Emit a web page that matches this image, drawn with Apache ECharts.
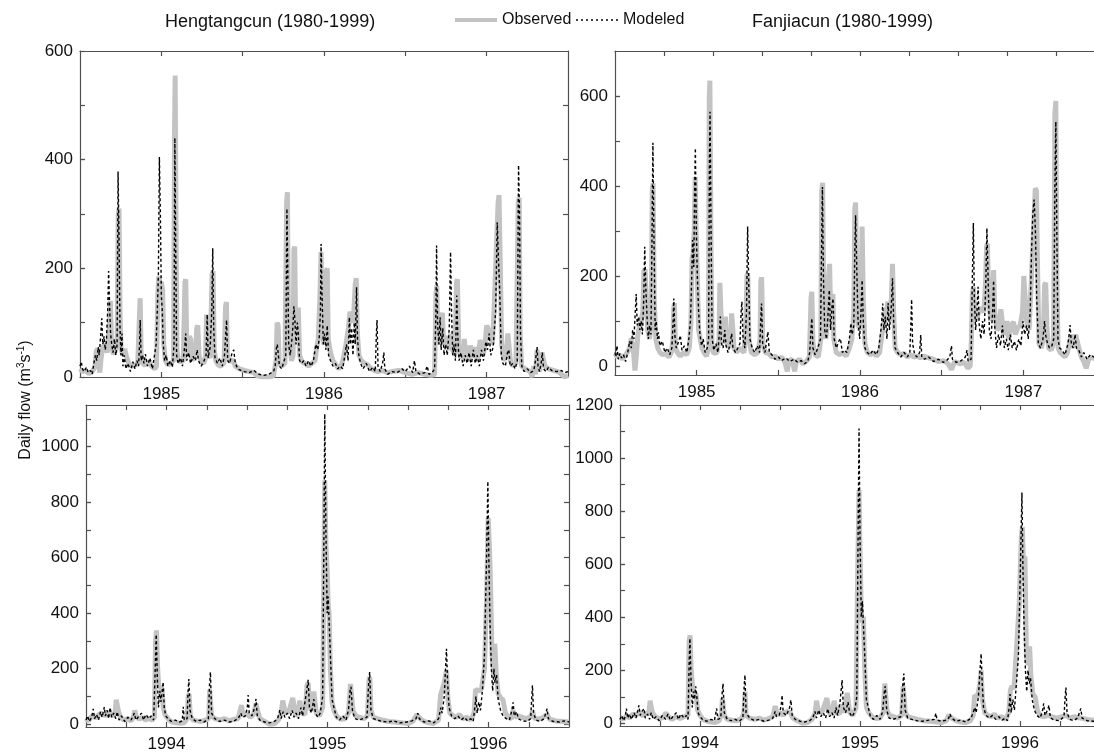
<!DOCTYPE html>
<html>
<head>
<meta charset="utf-8">
<title>Daily flow – Hengtangcun and Fanjiacun</title>
<script src="https://cdn.jsdelivr.net/npm/echarts@6/dist/echarts.min.js"></script>
<style>
  html, body { margin: 0; padding: 0; background: #ffffff; overflow: hidden; }
  #chart { width: 1094px; height: 753px; }
</style>
</head>
<body>
<div id="chart"></div>
<script>
// ---- Daily flow series, [decimal year, m3/s] ----

// Hengtangcun, mid-1984 to mid-1987
const hengtangObs85 = [
  [1984.500, 15], [1984.515, 10], [1984.535, 12], [1984.555, 6], [1984.575, 10], [1984.592, 18],
  [1984.600, 48], [1984.608, 52], [1984.615, 30], [1984.622, 8], [1984.630, 35], [1984.640, 55], [1984.655, 60], [1984.668, 45],
  [1984.680, 90], [1984.687, 140], [1984.694, 60], [1984.705, 42], [1984.718, 48], [1984.728, 60],
  [1984.735, 300], [1984.740, 310], [1984.746, 120], [1984.752, 55], [1984.762, 40], [1984.775, 52], [1984.785, 38], [1984.800, 25], [1984.820, 20], [1984.840, 22], [1984.855, 25],
  [1984.865, 110], [1984.870, 145], [1984.876, 40], [1984.885, 25], [1984.900, 22], [1984.920, 28], [1984.940, 20], [1984.960, 15], [1984.970, 20],
  [1984.978, 150], [1984.984, 185], [1984.992, 170], [1985.000, 175], [1985.008, 160], [1985.015, 60], [1985.025, 30], [1985.040, 22], [1985.060, 25], [1985.075, 30],
  [1985.081, 450], [1985.085, 555], [1985.090, 300], [1985.096, 50], [1985.105, 30], [1985.120, 28], [1985.135, 30],
  [1985.145, 175], [1985.150, 180], [1985.156, 60], [1985.165, 40], [1985.172, 75], [1985.180, 70], [1985.188, 30], [1985.200, 28], [1985.210, 45],
  [1985.218, 90], [1985.224, 95], [1985.232, 40], [1985.245, 28], [1985.260, 25], [1985.272, 35],
  [1985.278, 115], [1985.284, 118], [1985.290, 40], [1985.300, 35], [1985.312, 190], [1985.318, 195], [1985.325, 50], [1985.335, 30], [1985.350, 22], [1985.365, 20], [1985.385, 25],
  [1985.395, 130], [1985.400, 138], [1985.406, 40], [1985.420, 28], [1985.440, 32], [1985.455, 20], [1985.480, 15], [1985.510, 12], [1985.540, 10], [1985.570, 8], [1985.590, 2], [1985.620, 0], [1985.660, 0], [1985.690, 2], [1985.705, 30],
  [1985.712, 100], [1985.718, 95], [1985.725, 25], [1985.740, 20], [1985.760, 25],
  [1985.770, 320], [1985.775, 340], [1985.781, 120], [1985.790, 60], [1985.800, 30], [1985.810, 40],
  [1985.815, 235], [1985.820, 240], [1985.826, 80], [1985.835, 120], [1985.842, 128], [1985.850, 40], [1985.865, 28], [1985.885, 25], [1985.905, 20], [1985.925, 25], [1985.945, 30], [1985.955, 55],
  [1985.965, 70], [1985.975, 150], [1985.982, 230], [1985.990, 90], [1986.000, 60], [1986.008, 80],
  [1986.014, 195], [1986.020, 200], [1986.026, 70], [1986.040, 45], [1986.055, 30], [1986.075, 22], [1986.090, 15], [1986.105, 20], [1986.120, 35], [1986.135, 60], [1986.150, 90],
  [1986.160, 120], [1986.170, 122], [1986.180, 100], [1986.192, 170], [1986.198, 182], [1986.205, 80], [1986.215, 40], [1986.230, 30], [1986.250, 25], [1986.270, 22], [1986.290, 15], [1986.310, 12], [1986.330, 10], [1986.360, 12], [1986.390, 8], [1986.420, 10], [1986.460, 12], [1986.500, 8], [1986.540, 5], [1986.580, 8], [1986.620, 5], [1986.660, 3], [1986.680, 5],
  [1986.688, 150], [1986.693, 168], [1986.700, 80], [1986.710, 60], [1986.722, 110], [1986.728, 118], [1986.735, 60], [1986.750, 70], [1986.758, 75], [1986.768, 50], [1986.778, 80], [1986.790, 50], [1986.805, 40],
  [1986.815, 175], [1986.820, 180], [1986.828, 60], [1986.840, 40], [1986.855, 35], [1986.862, 70], [1986.868, 72], [1986.875, 40], [1986.890, 30], [1986.900, 58], [1986.908, 60], [1986.918, 35], [1986.928, 55], [1986.936, 58], [1986.945, 30], [1986.960, 68], [1986.968, 70], [1986.978, 40], [1986.990, 60],
  [1987.000, 95], [1987.010, 92], [1987.022, 80], [1987.035, 60], [1987.045, 120],
  [1987.070, 320], [1987.076, 335], [1987.083, 220], [1987.092, 60], [1987.105, 30], [1987.120, 40], [1987.130, 80], [1987.138, 78], [1987.146, 30], [1987.160, 20], [1987.180, 25],
  [1987.194, 320], [1987.200, 330], [1987.206, 80], [1987.215, 20], [1987.235, 15], [1987.255, 12], [1987.270, 8], [1987.280, 0], [1987.290, 20], [1987.300, 5], [1987.310, 50], [1987.318, 48], [1987.325, 10], [1987.340, 45], [1987.348, 42], [1987.358, 20], [1987.380, 15], [1987.410, 12], [1987.440, 10], [1987.460, 5], [1987.480, 0], [1987.500, 3]
];

const hengtangMod85 = [
  [1984.500, 20], [1984.508, 28], [1984.515, 15], [1984.525, 10], [1984.540, 18], [1984.550, 8], [1984.565, 12], [1984.575, 5], [1984.585, 25], [1984.595, 40], [1984.603, 30], [1984.612, 55], [1984.618, 40],
  [1984.628, 80], [1984.634, 108], [1984.640, 60], [1984.648, 75], [1984.655, 50], [1984.662, 65],
  [1984.670, 120], [1984.676, 195], [1984.682, 130], [1984.688, 80], [1984.695, 60], [1984.703, 45], [1984.712, 70], [1984.720, 40], [1984.728, 60],
  [1984.734, 378], [1984.740, 250], [1984.746, 90], [1984.752, 40], [1984.758, 80], [1984.764, 20], [1984.772, 40], [1984.782, 15], [1984.795, 25], [1984.810, 10], [1984.825, 28], [1984.838, 15], [1984.850, 30], [1984.860, 20],
  [1984.866, 60], [1984.870, 105], [1984.876, 30], [1984.885, 40], [1984.893, 25], [1984.902, 42], [1984.915, 20], [1984.930, 35], [1984.945, 15], [1984.958, 40], [1984.968, 60],
  [1984.976, 130], [1984.982, 190], [1984.988, 405], [1984.994, 300], [1985.000, 150], [1985.006, 120], [1985.012, 60], [1985.020, 30], [1985.030, 40], [1985.040, 20], [1985.055, 30], [1985.068, 18], [1985.078, 60],
  [1985.083, 440], [1985.088, 250], [1985.094, 40], [1985.104, 25], [1985.118, 35], [1985.130, 20],
  [1985.145, 60], [1985.150, 80], [1985.156, 30], [1985.168, 45], [1985.180, 25], [1985.195, 38], [1985.210, 30], [1985.220, 50], [1985.228, 30], [1985.245, 20], [1985.260, 28], [1985.275, 40],
  [1985.282, 115], [1985.288, 35], [1985.300, 55], [1985.310, 120], [1985.316, 237], [1985.322, 90], [1985.330, 35], [1985.345, 25], [1985.360, 35], [1985.375, 20], [1985.388, 40],
  [1985.396, 80], [1985.401, 105], [1985.408, 30], [1985.420, 25], [1985.435, 45], [1985.445, 50], [1985.455, 25], [1985.470, 15], [1985.490, 12], [1985.510, 10], [1985.540, 8], [1985.570, 12], [1985.585, 8], [1985.600, 5], [1985.630, 3], [1985.660, 5], [1985.690, 10], [1985.700, 20],
  [1985.708, 55], [1985.713, 60], [1985.718, 45], [1985.726, 20], [1985.740, 15], [1985.755, 30], [1985.765, 40],
  [1985.772, 310], [1985.777, 200], [1985.783, 60], [1985.792, 40], [1985.800, 60], [1985.808, 90],
  [1985.815, 130], [1985.820, 110], [1985.828, 60], [1985.836, 100], [1985.842, 80], [1985.850, 30], [1985.862, 25], [1985.875, 30], [1985.890, 20], [1985.905, 30], [1985.920, 20], [1985.935, 30], [1985.950, 60], [1985.962, 50], [1985.970, 70],
  [1985.978, 120], [1985.982, 245], [1985.988, 150], [1985.996, 60], [1986.004, 80], [1986.012, 50], [1986.020, 95], [1986.028, 40], [1986.040, 30], [1986.055, 20], [1986.070, 25], [1986.085, 15], [1986.100, 20], [1986.115, 15], [1986.128, 40], [1986.138, 60], [1986.148, 30],
  [1986.156, 110], [1986.162, 60], [1986.170, 90], [1986.178, 40], [1986.186, 100], [1986.192, 60], [1986.200, 165], [1986.206, 70], [1986.214, 40], [1986.225, 25], [1986.240, 15], [1986.260, 25], [1986.280, 10], [1986.300, 18], [1986.315, 10],
  [1986.322, 80], [1986.326, 105], [1986.332, 20], [1986.345, 10], [1986.360, 25], [1986.368, 45], [1986.374, 15], [1986.390, 5], [1986.420, 10], [1986.450, 8], [1986.480, 15], [1986.500, 10], [1986.525, 20], [1986.545, 8], [1986.556, 30], [1986.565, 10], [1986.590, 5], [1986.620, 8], [1986.635, 20], [1986.645, 5], [1986.665, 8], [1986.680, 15],
  [1986.688, 120], [1986.692, 242], [1986.698, 100], [1986.706, 60], [1986.714, 110], [1986.720, 50], [1986.730, 90], [1986.738, 40], [1986.748, 60], [1986.758, 40], [1986.770, 90],
  [1986.778, 230], [1986.784, 120], [1986.792, 40], [1986.800, 60], [1986.808, 30], [1986.816, 150], [1986.822, 80], [1986.830, 30], [1986.842, 45], [1986.855, 20], [1986.868, 40], [1986.880, 25], [1986.892, 45], [1986.905, 20], [1986.918, 50], [1986.930, 25], [1986.942, 40], [1986.955, 20], [1986.968, 50], [1986.980, 30], [1986.995, 65], [1987.005, 50], [1987.015, 80], [1987.025, 40], [1987.040, 55], [1987.055, 120],
  [1987.065, 285], [1987.072, 220], [1987.080, 160], [1987.090, 40], [1987.100, 25], [1987.115, 20], [1987.128, 45], [1987.136, 50], [1987.145, 20], [1987.160, 25], [1987.175, 15], [1987.188, 30],
  [1987.196, 390], [1987.202, 300], [1987.208, 80], [1987.216, 20], [1987.230, 10], [1987.250, 15], [1987.270, 8], [1987.290, 12], [1987.300, 30], [1987.310, 55], [1987.316, 20], [1987.325, 10], [1987.335, 25], [1987.342, 45], [1987.350, 15], [1987.365, 10], [1987.380, 18], [1987.400, 12], [1987.430, 10], [1987.460, 12], [1987.480, 8], [1987.500, 10]
];

// Fanjiacun, mid-1984 to mid-1987
const fanjiacunObs85 = [
  [1984.500, 28], [1984.515, 20], [1984.530, 25], [1984.545, 15], [1984.560, 22], [1984.575, 30], [1984.590, 40],
  [1984.600, 62], [1984.606, 65], [1984.614, 30], [1984.622, -10], [1984.630, 20], [1984.640, 70], [1984.650, 90], [1984.660, 100], [1984.670, 120],
  [1984.677, 210], [1984.684, 215], [1984.692, 150], [1984.700, 80], [1984.712, 60], [1984.722, 100],
  [1984.728, 390], [1984.733, 406], [1984.740, 150], [1984.750, 60], [1984.762, 40], [1984.775, 30], [1984.790, 25], [1984.810, 28], [1984.830, 20], [1984.845, 30], [1984.855, 60],
  [1984.860, 130], [1984.864, 140], [1984.870, 40], [1984.885, 28], [1984.900, 22], [1984.920, 30], [1984.940, 25], [1984.955, 40], [1984.965, 100],
  [1984.972, 240], [1984.978, 250], [1984.985, 300], [1984.991, 420], [1984.997, 300], [1985.004, 200], [1985.012, 80], [1985.022, 60], [1985.032, 40], [1985.045, 30], [1985.060, 22], [1985.072, 40],
  [1985.077, 600], [1985.081, 634], [1985.087, 300], [1985.094, 40], [1985.105, 28], [1985.125, 30], [1985.137, 60],
  [1985.142, 185], [1985.147, 188], [1985.153, 80], [1985.162, 50], [1985.170, 95], [1985.176, 110], [1985.182, 60], [1985.195, 40], [1985.208, 60], [1985.214, 117], [1985.220, 90], [1985.228, 40], [1985.245, 30], [1985.262, 40], [1985.275, 35], [1985.290, 30], [1985.300, 80],
  [1985.308, 200], [1985.313, 206], [1985.320, 60], [1985.335, 30], [1985.355, 25], [1985.375, 30], [1985.388, 60],
  [1985.393, 190], [1985.398, 197], [1985.405, 50], [1985.420, 30], [1985.440, 28], [1985.460, 20], [1985.480, 22], [1985.500, 15], [1985.520, 20], [1985.540, 8], [1985.555, -12], [1985.565, 12], [1985.585, 15], [1985.600, -12], [1985.610, 10], [1985.630, 15], [1985.650, 5], [1985.670, 10], [1985.690, 20],
  [1985.700, 150], [1985.705, 165], [1985.712, 50], [1985.725, 25], [1985.745, 20], [1985.760, 60],
  [1985.766, 390], [1985.771, 407], [1985.778, 150], [1985.790, 60], [1985.800, 90], [1985.808, 200], [1985.814, 227], [1985.820, 120], [1985.828, 150], [1985.834, 160], [1985.840, 60], [1985.855, 30], [1985.875, 25], [1985.895, 30], [1985.915, 22], [1985.935, 40], [1985.950, 60], [1985.962, 120],
  [1985.968, 350], [1985.973, 363], [1985.980, 200], [1985.990, 90], [1986.000, 80], [1986.008, 200], [1986.013, 310], [1986.020, 150], [1986.030, 50], [1986.045, 30], [1986.065, 25], [1986.085, 30], [1986.100, 22], [1986.120, 30], [1986.135, 70], [1986.150, 110], [1986.165, 130],
  [1986.171, 143], [1986.180, 100], [1986.192, 150], [1986.199, 227], [1986.206, 120], [1986.215, 40], [1986.230, 30], [1986.250, 25], [1986.270, 28], [1986.290, 20], [1986.310, 25], [1986.330, 20], [1986.350, 22], [1986.370, 18], [1986.390, 22], [1986.420, 18], [1986.450, 15], [1986.480, 10], [1986.510, 12], [1986.540, 5], [1986.560, -8], [1986.580, 10], [1986.610, 5], [1986.640, 8], [1986.660, -5], [1986.675, 0], [1986.682, 60],
  [1986.688, 160], [1986.694, 175], [1986.702, 120], [1986.712, 100], [1986.723, 117], [1986.735, 130], [1986.745, 132], [1986.758, 120], [1986.768, 180], [1986.775, 265], [1986.780, 272], [1986.788, 150], [1986.800, 100], [1986.812, 150], [1986.818, 213], [1986.825, 120], [1986.838, 80], [1986.852, 85], [1986.862, 126], [1986.868, 110], [1986.878, 70], [1986.890, 80], [1986.900, 100], [1986.910, 60], [1986.925, 90], [1986.940, 98], [1986.952, 70], [1986.965, 85], [1986.980, 90], [1986.995, 120],
  [1987.003, 200], [1987.011, 200], [1987.020, 100], [1987.035, 80], [1987.050, 200], [1987.062, 300], [1987.073, 395], [1987.080, 390], [1987.088, 200], [1987.096, 50], [1987.110, 40], [1987.122, 60], [1987.130, 180], [1987.137, 185], [1987.145, 80], [1987.155, 40], [1987.170, 35], [1987.185, 50],
  [1987.193, 560], [1987.199, 589], [1987.205, 200], [1987.213, 40], [1987.225, 30], [1987.240, 25], [1987.255, 20], [1987.270, 30], [1987.280, 45], [1987.292, 70], [1987.300, 40], [1987.312, 55], [1987.320, 70], [1987.330, 72], [1987.340, 40], [1987.355, 20], [1987.370, 10], [1987.385, -5], [1987.400, 15], [1987.420, 20], [1987.440, 15], [1987.460, 25], [1987.480, 20], [1987.500, 18]
];

const fanjiacunMod85 = [
  [1984.500, 30], [1984.505, 20], [1984.512, 45], [1984.520, 15], [1984.530, 28], [1984.540, 18], [1984.552, 25], [1984.565, 10], [1984.578, 30], [1984.590, 55], [1984.600, 40], [1984.608, 80], [1984.616, 60],
  [1984.624, 120], [1984.630, 160], [1984.636, 90], [1984.645, 110], [1984.652, 80], [1984.660, 100], [1984.668, 70], [1984.676, 150], [1984.682, 265], [1984.688, 180], [1984.696, 110], [1984.704, 60], [1984.712, 90], [1984.720, 70],
  [1984.727, 300], [1984.732, 496], [1984.738, 300], [1984.746, 80], [1984.752, 100], [1984.760, 60], [1984.766, 75], [1984.775, 45], [1984.790, 55], [1984.805, 30], [1984.820, 40], [1984.835, 25], [1984.848, 40],
  [1984.856, 100], [1984.860, 150], [1984.866, 70], [1984.875, 40], [1984.890, 55], [1984.900, 68], [1984.910, 35], [1984.925, 45], [1984.940, 30], [1984.952, 60], [1984.962, 100],
  [1984.970, 200], [1984.975, 280], [1984.982, 220], [1984.988, 400], [1984.992, 484], [1984.998, 300], [1985.004, 200], [1985.012, 120], [1985.020, 70], [1985.030, 45], [1985.040, 60], [1985.052, 30], [1985.065, 40], [1985.073, 60],
  [1985.078, 450], [1985.082, 565], [1985.088, 300], [1985.095, 60], [1985.105, 35], [1985.118, 50], [1985.130, 30],
  [1985.140, 80], [1985.145, 110], [1985.152, 50], [1985.162, 40], [1985.172, 80], [1985.180, 45], [1985.192, 30], [1985.205, 50], [1985.214, 72], [1985.222, 40], [1985.238, 30], [1985.252, 40], [1985.265, 50],
  [1985.272, 120], [1985.277, 143], [1985.284, 60], [1985.295, 40], [1985.305, 120], [1985.312, 310], [1985.318, 200], [1985.326, 60], [1985.340, 40], [1985.355, 30], [1985.372, 45], [1985.385, 30],
  [1985.392, 100], [1985.397, 139], [1985.404, 50], [1985.418, 30], [1985.430, 60], [1985.436, 76], [1985.445, 30], [1985.460, 25], [1985.480, 15], [1985.500, 20], [1985.520, 12], [1985.545, 18], [1985.570, 10], [1985.595, 15], [1985.620, 8], [1985.640, 12], [1985.660, 5], [1985.680, 10], [1985.692, 30],
  [1985.700, 80], [1985.705, 106], [1985.712, 40], [1985.725, 25], [1985.742, 40], [1985.758, 60],
  [1985.766, 300], [1985.770, 398], [1985.776, 200], [1985.784, 80], [1985.795, 60], [1985.805, 120], [1985.812, 169], [1985.820, 80], [1985.828, 130], [1985.835, 150], [1985.842, 60], [1985.855, 40], [1985.870, 55], [1985.880, 61], [1985.892, 30], [1985.905, 35], [1985.920, 30], [1985.935, 60], [1985.944, 95], [1985.952, 70], [1985.962, 90],
  [1985.968, 250], [1985.973, 335], [1985.980, 220], [1985.988, 100], [1985.998, 60], [1986.006, 120], [1986.013, 191], [1986.020, 100], [1986.030, 40], [1986.045, 30], [1986.060, 25], [1986.080, 35], [1986.100, 25], [1986.115, 40], [1986.128, 80],
  [1986.135, 110], [1986.139, 139], [1986.146, 80], [1986.155, 110], [1986.165, 60], [1986.172, 140], [1986.180, 80], [1986.190, 120], [1986.199, 195], [1986.206, 100], [1986.215, 40], [1986.230, 30], [1986.250, 20], [1986.270, 30], [1986.290, 20], [1986.305, 30],
  [1986.312, 100], [1986.316, 148], [1986.322, 50], [1986.335, 25], [1986.350, 20], [1986.365, 30], [1986.372, 69], [1986.378, 20], [1986.395, 15], [1986.420, 20], [1986.450, 10], [1986.480, 15], [1986.510, 8], [1986.530, 12], [1986.550, 20], [1986.560, 45], [1986.566, 15], [1986.590, 8], [1986.620, 12], [1986.645, 20], [1986.655, 35], [1986.662, 10], [1986.680, 15],
  [1986.688, 200], [1986.694, 318], [1986.700, 150], [1986.708, 80], [1986.716, 120], [1986.723, 176], [1986.730, 90], [1986.740, 60], [1986.750, 100], [1986.760, 70], [1986.770, 180], [1986.777, 306], [1986.784, 200], [1986.792, 80], [1986.802, 60], [1986.812, 120], [1986.818, 190], [1986.826, 80], [1986.836, 40], [1986.848, 70], [1986.860, 45], [1986.872, 90], [1986.884, 40], [1986.896, 60], [1986.908, 35], [1986.920, 70], [1986.932, 40], [1986.945, 55], [1986.958, 35], [1986.972, 60], [1986.985, 45], [1986.998, 100], [1987.008, 70], [1987.020, 90], [1987.030, 60], [1987.042, 120],
  [1987.050, 250], [1987.058, 339], [1987.066, 370], [1987.074, 300], [1987.082, 150], [1987.092, 50], [1987.105, 40], [1987.120, 60], [1987.130, 100], [1987.136, 70], [1987.148, 50], [1987.160, 40], [1987.175, 45], [1987.186, 60],
  [1987.193, 400], [1987.199, 543], [1987.205, 300], [1987.212, 60], [1987.222, 40], [1987.238, 35], [1987.255, 25], [1987.270, 45], [1987.278, 60], [1987.286, 91], [1987.294, 50], [1987.305, 40], [1987.317, 70], [1987.325, 40], [1987.340, 35], [1987.355, 20], [1987.370, 30], [1987.390, 15], [1987.410, 25], [1987.430, 20], [1987.460, 22], [1987.500, 20]
];

// Hengtangcun, mid-1993 to mid-1996
const hengtangObs94 = [
  [1993.500, 20], [1993.515, 12], [1993.530, 25], [1993.545, 30], [1993.560, 22], [1993.580, 35], [1993.600, 40], [1993.620, 30], [1993.640, 45], [1993.660, 30], [1993.680, 40],
  [1993.688, 88], [1993.694, 92], [1993.702, 45], [1993.715, 25], [1993.735, 15], [1993.760, 20], [1993.780, 12], [1993.795, 25], [1993.803, 50], [1993.810, 30], [1993.830, 18], [1993.850, 25], [1993.870, 15], [1993.890, 22], [1993.910, 15], [1993.925, 25],
  [1993.932, 300], [1993.938, 338], [1993.945, 200], [1993.952, 135], [1993.962, 140], [1993.972, 130], [1993.980, 60], [1993.990, 35], [1994.000, 30], [1994.015, 15], [1994.035, 8], [1994.060, 5], [1994.085, 3], [1994.110, 5], [1994.128, 20],
  [1994.135, 100], [1994.140, 110], [1994.148, 30], [1994.165, 15], [1994.190, 12], [1994.215, 10], [1994.240, 15], [1994.262, 20],
  [1994.268, 125], [1994.273, 130], [1994.280, 30], [1994.300, 20], [1994.330, 15], [1994.360, 20], [1994.390, 12], [1994.420, 18], [1994.445, 20], [1994.460, 55], [1994.466, 69], [1994.475, 30], [1994.495, 40], [1994.507, 45], [1994.520, 25], [1994.540, 35], [1994.556, 75], [1994.565, 50], [1994.580, 20], [1994.610, 10], [1994.640, 0], [1994.670, 2], [1994.695, 15], [1994.712, 40],
  [1994.722, 85], [1994.729, 92], [1994.738, 40], [1994.760, 45], [1994.784, 95], [1994.791, 98], [1994.800, 40], [1994.815, 30], [1994.828, 85], [1994.834, 92], [1994.842, 40], [1994.860, 35], [1994.873, 140], [1994.880, 150], [1994.888, 60], [1994.905, 50], [1994.915, 118], [1994.921, 122], [1994.930, 40], [1994.950, 30], [1994.970, 60],
  [1994.978, 600], [1994.983, 879], [1994.990, 650], [1994.998, 550], [1995.005, 420], [1995.010, 400], [1995.018, 200], [1995.028, 80], [1995.040, 50], [1995.060, 25], [1995.085, 18], [1995.110, 20], [1995.130, 40],
  [1995.143, 145], [1995.149, 150], [1995.158, 50], [1995.175, 30], [1995.200, 25], [1995.225, 20], [1995.248, 30],
  [1995.258, 160], [1995.263, 170], [1995.270, 50], [1995.285, 25], [1995.310, 20], [1995.340, 15], [1995.380, 10], [1995.420, 8], [1995.460, 5], [1995.500, 3], [1995.530, 10], [1995.555, 35], [1995.563, 40], [1995.575, 20], [1995.600, 10], [1995.630, 5], [1995.660, 3], [1995.690, 15],
  [1995.702, 105], [1995.708, 110], [1995.725, 150], [1995.739, 194], [1995.748, 90], [1995.760, 40], [1995.780, 30], [1995.800, 25], [1995.820, 35], [1995.840, 20], [1995.865, 25], [1995.890, 15], [1995.910, 40],
  [1995.920, 125], [1995.928, 128], [1995.945, 120], [1995.957, 128], [1995.975, 200], [1995.990, 500], [1995.998, 743], [1996.005, 650], [1996.012, 520], [1996.022, 250], [1996.032, 180], [1996.039, 290], [1996.048, 180], [1996.060, 110], [1996.075, 95], [1996.090, 88], [1996.105, 40], [1996.125, 25], [1996.143, 20], [1996.153, 50], [1996.165, 25], [1996.185, 30], [1996.210, 25], [1996.240, 20], [1996.265, 30], [1996.273, 47], [1996.285, 22], [1996.310, 18], [1996.340, 25], [1996.364, 35], [1996.380, 18], [1996.420, 12], [1996.460, 10], [1996.500, 8]
];

const hengtangMod94 = [
  [1993.500, 15], [1993.510, 30], [1993.520, 10], [1993.535, 25], [1993.545, 55], [1993.553, 20], [1993.565, 35], [1993.578, 15], [1993.590, 45], [1993.600, 25], [1993.614, 62], [1993.620, 30], [1993.632, 50], [1993.640, 20], [1993.650, 60], [1993.660, 25], [1993.672, 40], [1993.685, 20], [1993.694, 45], [1993.705, 15], [1993.720, 30], [1993.740, 10], [1993.760, 25], [1993.780, 15], [1993.800, 40], [1993.810, 15], [1993.830, 30], [1993.845, 40], [1993.858, 15], [1993.872, 35], [1993.890, 20], [1993.905, 30], [1993.920, 15],
  [1993.930, 200], [1993.936, 323], [1993.944, 150], [1993.950, 60], [1993.958, 120], [1993.965, 80], [1993.972, 110], [1993.979, 152], [1993.986, 60], [1993.995, 30], [1994.010, 20], [1994.030, 10], [1994.055, 15], [1994.080, 8], [1994.098, 12], [1994.104, 63], [1994.110, 15], [1994.128, 20],
  [1994.134, 120], [1994.139, 163], [1994.146, 50], [1994.160, 20], [1994.185, 10], [1994.210, 15], [1994.235, 8], [1994.260, 20],
  [1994.267, 140], [1994.273, 188], [1994.280, 40], [1994.300, 20], [1994.330, 10], [1994.360, 15], [1994.390, 8], [1994.420, 12], [1994.445, 20], [1994.462, 40], [1994.470, 25], [1994.490, 30], [1994.502, 60], [1994.507, 105], [1994.514, 40], [1994.530, 30], [1994.548, 60], [1994.556, 91], [1994.564, 30], [1994.580, 15], [1994.610, 8], [1994.640, 5], [1994.670, 10], [1994.690, 20], [1994.704, 51], [1994.712, 20], [1994.725, 45], [1994.735, 25], [1994.750, 40], [1994.765, 20], [1994.780, 50], [1994.792, 25], [1994.805, 40], [1994.820, 20], [1994.835, 60], [1994.845, 30], [1994.860, 80],
  [1994.873, 130], [1994.880, 160], [1994.888, 60], [1994.900, 40], [1994.915, 90], [1994.925, 40], [1994.940, 25], [1994.955, 40], [1994.970, 100],
  [1994.978, 700], [1994.983, 1118], [1994.990, 700], [1994.998, 400], [1995.004, 460], [1995.010, 458], [1995.018, 250], [1995.028, 90], [1995.040, 60], [1995.055, 25], [1995.075, 15], [1995.095, 30], [1995.115, 15], [1995.130, 50],
  [1995.140, 120], [1995.146, 135], [1995.155, 50], [1995.170, 20], [1995.195, 15], [1995.220, 20], [1995.245, 25],
  [1995.256, 150], [1995.262, 188], [1995.270, 50], [1995.285, 20], [1995.310, 15], [1995.340, 10], [1995.375, 8], [1995.410, 12], [1995.450, 5], [1995.490, 8], [1995.525, 12], [1995.550, 20], [1995.560, 40], [1995.570, 20], [1995.600, 8], [1995.630, 12], [1995.660, 5], [1995.690, 20],
  [1995.704, 60], [1995.712, 40], [1995.725, 100], [1995.733, 200], [1995.739, 272], [1995.746, 150], [1995.755, 60], [1995.770, 30], [1995.790, 20], [1995.810, 30], [1995.830, 15], [1995.850, 25], [1995.870, 12], [1995.890, 20], [1995.905, 10],
  [1995.915, 60], [1995.922, 100], [1995.930, 40], [1995.940, 80], [1995.950, 50], [1995.962, 120], [1995.975, 250], [1995.988, 600], [1995.996, 875], [1996.002, 600], [1996.010, 350], [1996.018, 200], [1996.026, 120], [1996.034, 200], [1996.040, 150], [1996.050, 178], [1996.060, 90], [1996.075, 50], [1996.090, 30], [1996.110, 20], [1996.130, 15], [1996.145, 50], [1996.153, 79], [1996.160, 30], [1996.175, 45], [1996.185, 20], [1996.210, 12], [1996.240, 10], [1996.262, 20],
  [1996.268, 90], [1996.273, 140], [1996.280, 40], [1996.295, 15], [1996.320, 10], [1996.345, 20], [1996.364, 56], [1996.372, 20], [1996.400, 10], [1996.440, 8], [1996.470, 12], [1996.500, 8]
];

// Fanjiacun, mid-1993 to mid-1996
const fanjiacunObs94 = [
  [1993.500, 22], [1993.520, 15], [1993.540, 28], [1993.560, 20], [1993.580, 35], [1993.600, 30], [1993.620, 42], [1993.640, 28], [1993.660, 38], [1993.680, 35],
  [1993.688, 85], [1993.695, 90], [1993.703, 40], [1993.720, 25], [1993.745, 18], [1993.770, 22], [1993.787, 40], [1993.794, 44], [1993.802, 25], [1993.825, 15], [1993.850, 25], [1993.875, 18], [1993.900, 25], [1993.925, 30],
  [1993.932, 310], [1993.938, 332], [1993.945, 200], [1993.955, 125], [1993.965, 120], [1993.975, 110], [1993.985, 50], [1994.000, 30], [1994.020, 15], [1994.045, 8], [1994.070, 5], [1994.095, 3], [1994.120, 10], [1994.135, 40],
  [1994.140, 95], [1994.145, 100], [1994.152, 30], [1994.170, 15], [1994.200, 12], [1994.230, 10], [1994.260, 18], [1994.275, 40], [1994.281, 120], [1994.288, 30], [1994.310, 20], [1994.340, 15], [1994.370, 20], [1994.400, 12], [1994.430, 18], [1994.455, 25], [1994.470, 65], [1994.476, 69], [1994.485, 30], [1994.505, 40], [1994.520, 30], [1994.540, 45], [1994.565, 40], [1994.580, 20], [1994.610, 10], [1994.640, 0], [1994.670, 2], [1994.700, 15], [1994.720, 40],
  [1994.728, 85], [1994.734, 88], [1994.742, 40], [1994.765, 45], [1994.793, 95], [1994.800, 100], [1994.808, 40], [1994.825, 35], [1994.838, 85], [1994.844, 88], [1994.852, 40], [1994.870, 35], [1994.880, 60], [1994.888, 70], [1994.900, 40], [1994.920, 115], [1994.928, 119], [1994.936, 40], [1994.955, 30], [1994.975, 60],
  [1994.985, 550], [1994.994, 879], [1995.000, 650], [1995.008, 420], [1995.015, 380], [1995.021, 402], [1995.030, 200], [1995.040, 60], [1995.055, 40], [1995.075, 25], [1995.100, 18], [1995.125, 20], [1995.145, 40],
  [1995.155, 150], [1995.160, 157], [1995.168, 50], [1995.185, 30], [1995.210, 25], [1995.235, 20], [1995.260, 30],
  [1995.270, 140], [1995.275, 144], [1995.283, 40], [1995.300, 25], [1995.330, 20], [1995.360, 15], [1995.400, 10], [1995.440, 8], [1995.480, 5], [1995.510, 3], [1995.540, 10], [1995.555, 32], [1995.562, 38], [1995.572, 20], [1995.600, 10], [1995.630, 5], [1995.660, 3], [1995.690, 10], [1995.708, 30],
  [1995.716, 105], [1995.722, 110], [1995.735, 100], [1995.750, 150], [1995.757, 200], [1995.765, 90], [1995.780, 40], [1995.800, 30], [1995.820, 25], [1995.840, 35], [1995.860, 20], [1995.885, 25], [1995.910, 15], [1995.930, 40],
  [1995.940, 125], [1995.949, 140], [1995.962, 130], [1995.975, 250], [1995.982, 320], [1995.995, 450], [1996.008, 700], [1996.015, 741], [1996.022, 600], [1996.031, 630], [1996.040, 250], [1996.052, 220], [1996.060, 290], [1996.068, 180], [1996.080, 110], [1996.095, 100], [1996.110, 45], [1996.130, 28], [1996.150, 25], [1996.175, 30], [1996.200, 25], [1996.230, 20], [1996.260, 25], [1996.287, 30], [1996.310, 20], [1996.340, 25], [1996.380, 20], [1996.420, 15], [1996.460, 12], [1996.500, 10]
];

const fanjiacunMod94 = [
  [1993.500, 15], [1993.512, 30], [1993.522, 10], [1993.532, 25], [1993.540, 56], [1993.548, 20], [1993.560, 35], [1993.572, 15], [1993.588, 40], [1993.600, 20], [1993.612, 50], [1993.618, 68], [1993.626, 30], [1993.638, 45], [1993.650, 56], [1993.658, 20], [1993.672, 35], [1993.685, 15], [1993.695, 40], [1993.708, 15], [1993.725, 25], [1993.745, 10], [1993.765, 30], [1993.785, 15], [1993.800, 35], [1993.815, 12], [1993.835, 30], [1993.852, 40], [1993.865, 15], [1993.880, 35], [1993.900, 20], [1993.915, 30], [1993.925, 15],
  [1993.932, 220], [1993.937, 320], [1993.944, 160], [1993.952, 60], [1993.960, 120], [1993.966, 90], [1993.973, 140], [1993.980, 100], [1993.988, 40], [1994.000, 25], [1994.020, 12], [1994.045, 8], [1994.070, 15], [1994.090, 10], [1994.104, 56], [1994.112, 15], [1994.130, 20],
  [1994.138, 110], [1994.144, 150], [1994.152, 40], [1994.170, 15], [1994.195, 10], [1994.220, 15], [1994.245, 8], [1994.268, 20],
  [1994.276, 140], [1994.281, 182], [1994.288, 40], [1994.310, 20], [1994.340, 10], [1994.370, 15], [1994.400, 8], [1994.430, 12], [1994.455, 20], [1994.470, 45], [1994.478, 25], [1994.495, 30], [1994.508, 70], [1994.513, 106], [1994.520, 40], [1994.540, 30], [1994.560, 60], [1994.568, 88], [1994.576, 30], [1994.595, 15], [1994.625, 8], [1994.655, 5], [1994.685, 10], [1994.705, 20], [1994.718, 45], [1994.728, 20], [1994.742, 50], [1994.755, 25], [1994.770, 40], [1994.785, 20], [1994.798, 55], [1994.810, 25], [1994.825, 40], [1994.838, 20], [1994.850, 60], [1994.860, 30], [1994.875, 80],
  [1994.883, 130], [1994.888, 163], [1994.896, 60], [1994.910, 40], [1994.925, 80], [1994.935, 40], [1994.950, 25], [1994.965, 40], [1994.980, 100],
  [1994.988, 700], [1994.994, 1111], [1995.000, 700], [1995.008, 400], [1995.015, 460], [1995.021, 458], [1995.030, 250], [1995.040, 90], [1995.052, 60], [1995.065, 25], [1995.085, 15], [1995.105, 30], [1995.125, 15], [1995.142, 45],
  [1995.152, 120], [1995.158, 140], [1995.167, 50], [1995.182, 20], [1995.205, 15], [1995.230, 20], [1995.255, 25],
  [1995.268, 150], [1995.274, 188], [1995.282, 50], [1995.298, 20], [1995.325, 15], [1995.355, 10], [1995.390, 8], [1995.430, 12], [1995.465, 15], [1995.474, 38], [1995.482, 12], [1995.510, 8], [1995.540, 12], [1995.555, 20], [1995.562, 35], [1995.572, 20], [1995.600, 8], [1995.630, 12], [1995.660, 5], [1995.695, 20],
  [1995.718, 60], [1995.726, 40], [1995.740, 100], [1995.750, 200], [1995.757, 263], [1995.764, 150], [1995.772, 60], [1995.788, 30], [1995.808, 20], [1995.828, 30], [1995.848, 15], [1995.868, 25], [1995.888, 12], [1995.908, 20], [1995.922, 10],
  [1995.932, 60], [1995.938, 110], [1995.945, 40], [1995.955, 90], [1995.965, 50], [1995.975, 130], [1995.990, 250], [1996.003, 600], [1996.012, 870], [1996.018, 600], [1996.026, 350], [1996.034, 200], [1996.042, 120], [1996.050, 200], [1996.058, 150], [1996.066, 170], [1996.076, 90], [1996.090, 50], [1996.105, 30], [1996.125, 20], [1996.140, 45], [1996.148, 75], [1996.156, 30], [1996.172, 50], [1996.181, 68], [1996.190, 20], [1996.215, 12], [1996.245, 10], [1996.275, 25],
  [1996.282, 100], [1996.287, 135], [1996.294, 40], [1996.310, 15], [1996.335, 10], [1996.360, 20], [1996.380, 56], [1996.388, 20], [1996.420, 10], [1996.460, 8], [1996.500, 10]
];

// ---- Tick positions and labels ----
const yearLabels85 = [1985, 1986, 1987];
const yearLabels94 = [1994, 1995, 1996];
const halfYearTicks85 = [1985, 1985.5, 1986, 1986.5, 1987];
const topTicksFanjiacun85 = [1984.8, 1985.1, 1985.4, 1985.7, 1986.0, 1986.3, 1986.6, 1986.9, 1987.2];
const quarterTicks94 = [1993.75, 1994, 1994.25, 1994.5, 1994.75, 1995, 1995.25, 1995.5, 1995.75, 1996, 1996.25];
const flowTicks600 = [100, 200, 300, 400, 500];
const flowTicks700 = [0, 100, 200, 300, 400, 500, 600];
const flowTicks1200 = [0, 100, 200, 300, 400, 500, 600, 700, 800, 900, 1000, 1100];
const flowLabels600 = [0, 200, 400, 600];
const flowLabels1000 = [0, 200, 400, 600, 800, 1000];
const flowLabels1200 = [0, 200, 400, 600, 800, 1000, 1200];

// ---- Chart ----
const FONT = '"Liberation Sans", Arial, Helvetica, sans-serif';
const FRAME = '#505050';
const TEXT = '#111111';
const OBS_COLOR = '#c3c3c3';
const MOD_DASH = [3, 2.5];

// The right-hand panels run past the page edge, so their grids are not
// squeezed back inside the canvas (outerBoundsMode: 'none').
const panels = [
  { grid: { left: 80, top: 51, width: 488, height: 326 }, xRange: [1984.5, 1987.5], yRange: [0, 600],
    xBottomTicks: halfYearTicks85, xTopTicks: halfYearTicks85, xLabels: yearLabels85,
    yTicks: flowTicks600, yLabels: flowLabels600, obs: hengtangObs85, mod: hengtangMod85 },
  { grid: { left: 615, top: 51, width: 490, height: 324 }, xRange: [1984.5, 1987.5], yRange: [-20, 700],
    xBottomTicks: halfYearTicks85, xTopTicks: topTicksFanjiacun85, xLabels: yearLabels85,
    yTicks: flowTicks700, yLabels: flowLabels600, obs: fanjiacunObs85, mod: fanjiacunMod85 },
  { grid: { left: 86, top: 405, width: 483, height: 322 }, xRange: [1993.5, 1996.5], yRange: [-10, 1150],
    xBottomTicks: quarterTicks94, xTopTicks: quarterTicks94, xLabels: yearLabels94,
    yTicks: flowTicks1200, yLabels: flowLabels1000, obs: hengtangObs94, mod: hengtangMod94 },
  { grid: { left: 620, top: 405, width: 480, height: 321 }, xRange: [1993.5, 1996.5], yRange: [-10, 1200],
    xBottomTicks: quarterTicks94, xTopTicks: quarterTicks94, xLabels: yearLabels94,
    yTicks: flowTicks1200, yLabels: flowLabels1200, obs: fanjiacunObs94, mod: fanjiacunMod94 }
];

const frameLine = { onZero: false, lineStyle: { color: FRAME, width: 1.2 } };
const tickStyle = (values) => ({ inside: true, length: 5, customValues: values, lineStyle: { color: FRAME, width: 1.2 } });
const labelStyle = (values, margin) => ({
  customValues: values, formatter: (v) => String(v), margin: margin,
  fontSize: 17, fontFamily: FONT, color: TEXT
});

const grid = [], xAxis = [], yAxis = [], series = [];
panels.forEach((p, i) => {
  grid.push(Object.assign({ containLabel: false, outerBoundsMode: 'none' }, p.grid));
  xAxis.push({ gridIndex: i, type: 'value', position: 'bottom', min: p.xRange[0], max: p.xRange[1],
    axisLine: frameLine, axisTick: tickStyle(p.xBottomTicks), axisLabel: labelStyle(p.xLabels, 9), splitLine: { show: false } });
  xAxis.push({ gridIndex: i, type: 'value', position: 'top', min: p.xRange[0], max: p.xRange[1],
    axisLine: frameLine, axisTick: tickStyle(p.xTopTicks), axisLabel: { show: false }, splitLine: { show: false } });
  yAxis.push({ gridIndex: i, type: 'value', position: 'left', min: p.yRange[0], max: p.yRange[1],
    axisLine: frameLine, axisTick: tickStyle(p.yTicks.concat(p.yLabels)), axisLabel: labelStyle(p.yLabels, 7), splitLine: { show: false } });
  yAxis.push({ gridIndex: i, type: 'value', position: 'right', min: p.yRange[0], max: p.yRange[1],
    axisLine: frameLine, axisTick: tickStyle(p.yTicks), axisLabel: { show: false }, splitLine: { show: false } });
  series.push({ name: 'Observed', type: 'line', xAxisIndex: 2 * i, yAxisIndex: 2 * i, data: p.obs,
    symbol: 'none', z: 2, lineStyle: { color: OBS_COLOR, width: 5 }, itemStyle: { color: OBS_COLOR } });
  series.push({ name: 'Modeled', type: 'line', xAxisIndex: 2 * i, yAxisIndex: 2 * i, data: p.mod,
    symbol: 'none', z: 3, lineStyle: { color: '#000000', width: 1.4, type: MOD_DASH }, itemStyle: { color: '#000000' } });
});

const chart = echarts.init(document.getElementById('chart'), null, { renderer: 'canvas' });
chart.setOption({
  backgroundColor: '#ffffff',
  animation: false,
  textStyle: { fontFamily: FONT },
  title: [
    { text: 'Hengtangcun (1980-1999)', left: 165, top: 13, padding: 0,
      textStyle: { fontSize: 18, fontWeight: 'normal', fontFamily: FONT, color: TEXT } },
    { text: 'Fanjiacun (1980-1999)', left: 752, top: 13, padding: 0,
      textStyle: { fontSize: 18, fontWeight: 'normal', fontFamily: FONT, color: TEXT } }
  ],
  legend: {
    data: [
      { name: 'Observed', lineStyle: { color: OBS_COLOR, width: 4 } },
      { name: 'Modeled', lineStyle: { color: '#000000', width: 1.3, type: [2, 3] } }
    ],
    left: 453, top: 12, padding: 0,
    itemWidth: 42, itemHeight: 14, itemGap: 4,
    itemStyle: { opacity: 0 },
    textStyle: { fontSize: 16, fontFamily: FONT, color: TEXT }
  },
  graphic: [{
    type: 'text', x: 26, y: 400, rotation: Math.PI / 2,
    style: {
      text: '{t|Daily flow (m}{s|3}{t|s}{s|-1}{t|)}',
      align: 'center', verticalAlign: 'middle', fill: TEXT,
      rich: {
        t: { fontSize: 16, fontFamily: FONT, fill: TEXT, lineHeight: 20 },
        s: { fontSize: 10, fontFamily: FONT, fill: TEXT, verticalAlign: 'top', lineHeight: 20 }
      }
    }
  }],
  grid: grid, xAxis: xAxis, yAxis: yAxis, series: series
});
</script>
</body>
</html>
